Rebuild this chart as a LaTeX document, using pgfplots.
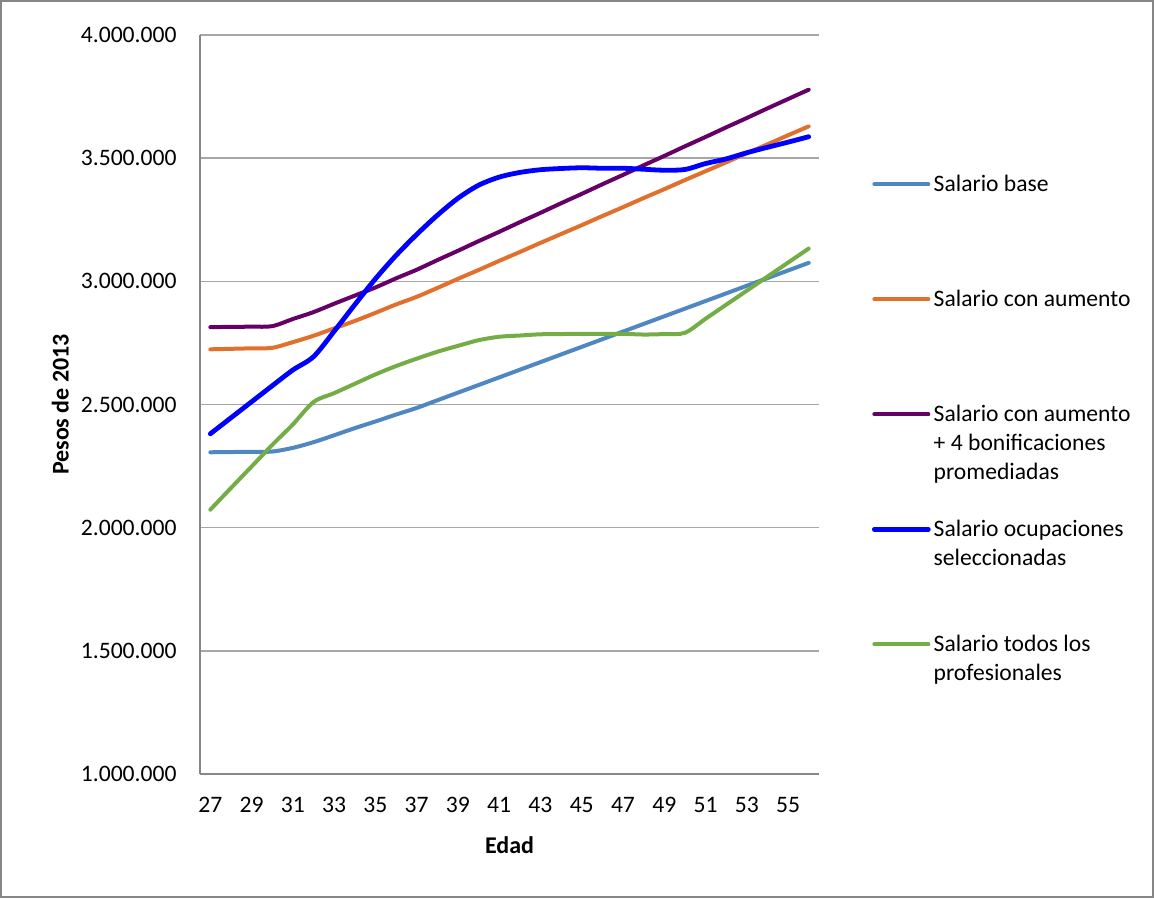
\documentclass[border=0pt]{standalone}
\usepackage{fontspec}
\setmainfont{Carlito}
\usepackage{pgfplots}
\usepackage{pgfplotstable}
\pgfplotsset{compat=1.18}

\definecolor{cbase}{HTML}{4F87C0}
\definecolor{caum}{HTML}{E0702C}
\definecolor{cbon}{HTML}{660066}
\definecolor{cocu}{HTML}{0000FF}
\definecolor{ctod}{HTML}{74AC46}
\definecolor{gridgray}{HTML}{A6A6A6}
\definecolor{axisgray}{HTML}{868686}

% salaries by age, pesos de 2013
\pgfplotstableread{
edad base aumento bonif ocupac todos
27 2306000 2724000 2814000 2381000 2073000
28 2307000 2726000 2815000 2446000 2161000
29 2308000 2728000 2816000 2511000 2248000
30 2309000 2730000 2818000 2576000 2336000
31 2324000 2753000 2847000 2640000 2419000
32 2347000 2779000 2875000 2694000 2510000
33 2375000 2809000 2909000 2797000 2546000
34 2404000 2839000 2942000 2905000 2584000
35 2431000 2872000 2975000 3010000 2622000
36 2459000 2906000 3012000 3105000 2656000
37 2486000 2937000 3047000 3190000 2686000
38 2517000 2973000 3086000 3268000 2714000
39 2548000 3010000 3124000 3337000 2738000
40 2579000 3046000 3163000 3390000 2761000
41 2610000 3083000 3201000 3423000 2775000
42 2641000 3119000 3240000 3442000 2780000
43 2672000 3156000 3278000 3453000 2785000
44 2703000 3192000 3317000 3458000 2786000
45 2734000 3228000 3355000 3461000 2787000
46 2765000 3265000 3394000 3459000 2787000
47 2796000 3301000 3432000 3459000 2787000
48 2827000 3338000 3471000 3455000 2784000
49 2858000 3374000 3509000 3451000 2786000
50 2889000 3411000 3548000 3454000 2791000
51 2920000 3447000 3586000 3478000 2848000
52 2951000 3483000 3625000 3497000 2905000
53 2982000 3520000 3663000 3522000 2962000
54 3013000 3556000 3702000 3544000 3019000
55 3044000 3593000 3740000 3565000 3076000
56 3075000 3629000 3778000 3587000 3133000
}\salarios

\newcommand{\txt}{\fontsize{11.8}{14.5}\selectfont}

\begin{document}
\begin{tikzpicture}
\useasboundingbox (0,0) rectangle (577pt,449pt);
\draw[axisgray, line width=0.8pt] (0.4pt,0.4pt) rectangle (576.6pt,448.6pt);
\begin{axis}[
  at={(100pt,62pt)}, anchor=south west,
  scale only axis, width=309.5pt, height=369.5pt,
  xmin=26.5, xmax=56.5,
  ymin=1000000, ymax=4000000,
  xtick={27,29,...,55},
  ytick={1000000,1500000,...,4000000},
  scaled y ticks=false,
  /pgf/number format/fixed,
  /pgf/number format/precision=0,
  /pgf/number format/1000 sep={.},
  /pgf/number format/assume math mode=true,
  tick label style={font=\txt},
  xticklabel style={yshift=-8pt},
  yticklabel style={xshift=-8.2pt},
  major tick length=0pt,
  axis x line*=bottom, axis y line*=left,
  axis line style={draw=axisgray, line width=0.75pt, -},
  ymajorgrids, grid style={draw=gridgray, line width=0.75pt},
  xlabel={Edad}, ylabel={Pesos de 2013},
  label style={font=\fontsize{12}{14}\selectfont\bfseries},
  xlabel style={at={(axis description cs:0.5,-0.096)}, anchor=center},
  ylabel style={at={(axis description cs:-0.2258,0.5)}, anchor=center},
  legend style={at={(axis description cs:1.0855,0.8126)}, anchor=north west,
    draw=none, fill=none, inner sep=0pt, outer sep=0pt,
    column sep=1.5pt, row sep=0pt, font=\txt,
    nodes={inner sep=0pt, text height=9pt, text depth=48.5pt},
    cells={anchor=base west}},
  legend image code/.code={\path (0pt,0pt); \draw[#1] (0pt,3.6pt) -- (27pt,3.6pt);},
  every axis plot/.append style={smooth, tension=0.5, line join=round, line cap=round},
]
\addplot[cbase, line width=2pt] table[x=edad, y=base] {\salarios};
\addlegendentry{Salario base}
\addplot[caum, line width=2pt] table[x=edad, y=aumento] {\salarios};
\addlegendentry{Salario con aumento}
\addplot[cbon, line width=2pt] table[x=edad, y=bonif] {\salarios};
\addlegendentry{\begin{tabular}[t]{@{}l@{}}Salario con aumento\\+ 4 bonificaciones\\promediadas\end{tabular}}
\addplot[cocu, line width=2.4pt] table[x=edad, y=ocupac] {\salarios};
\addlegendentry{\begin{tabular}[t]{@{}l@{}}Salario ocupaciones\\seleccionadas\end{tabular}}
\addplot[ctod, line width=2pt] table[x=edad, y=todos] {\salarios};
\addlegendentry{\begin{tabular}[t]{@{}l@{}}Salario todos los\\profesionales\end{tabular}}
\end{axis}
\end{tikzpicture}
\end{document}
